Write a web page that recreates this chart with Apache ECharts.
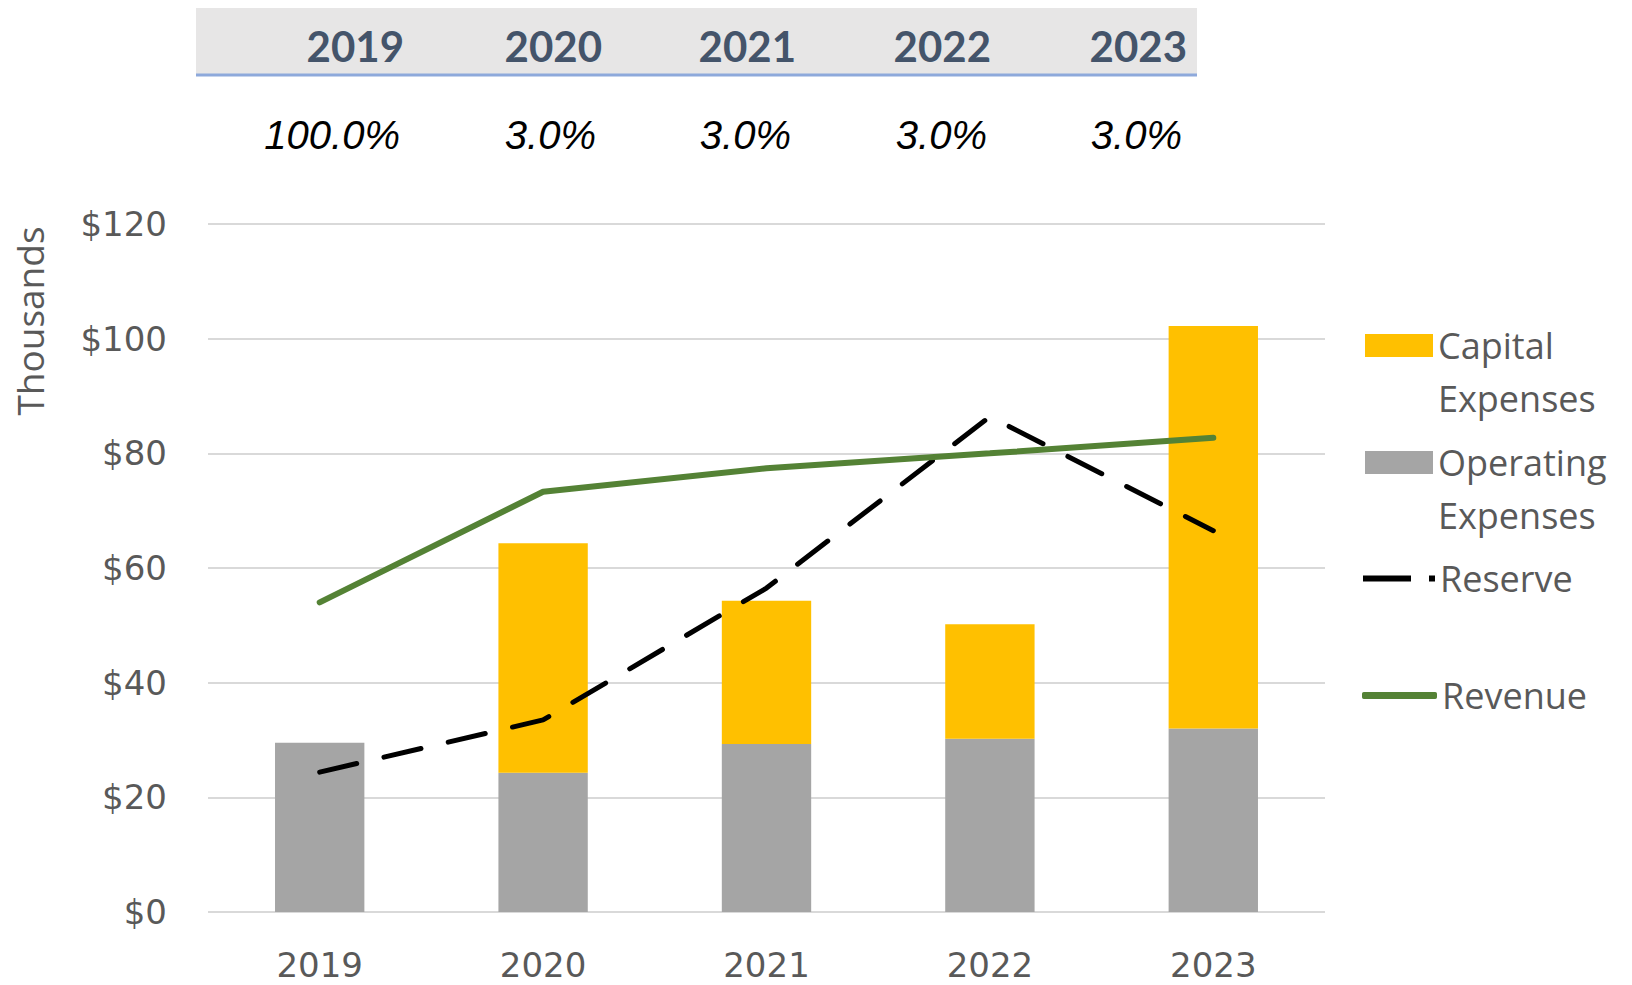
<!DOCTYPE html>
<html>
<head>
<meta charset="utf-8">
<title>Reserve</title>
<script src="https://cdn.jsdelivr.net/npm/echarts@6/dist/echarts.min.js"></script>
<style>
    html, body { margin: 0; padding: 0; background: #fff; }
    #chart { width: 1632px; height: 985px; }
</style>
</head>
<body>
<div id="chart"></div>
<script>
// 数据
var years = ['2019', '2020', '2021', '2022', '2023'];
var growthRates = ['100.0%', '3.0%', '3.0%', '3.0%', '3.0%'];
var operatingExpenses = [29.5, 24.3, 29.3, 30.2, 32.0];
var capitalExpenses = [null, 40.0, 25.0, 20.0, 70.2];
var reserve = [24.4, 33.5, 56.5, 86.4, 66.5];
var revenue = [54.0, 73.3, 77.4, 80.0, 82.7];
var yMin = 0;
var yMax = 120;
var yStep = 20;

// 表头列的右边界
var headerRight = [404, 602, 796, 991, 1187];
var rateRight = [400, 596, 791, 987, 1182];

function headerGraphic() {
    var els = [{
        type: 'rect',
        shape: {x: 196, y: 8, width: 1001, height: 67},
        style: {fill: '#E7E6E6'}
    }, {
        type: 'line',
        shape: {x1: 196, y1: 75, x2: 1197, y2: 75},
        style: {stroke: '#8EA9DB', lineWidth: 3}
    }];
    for (var i = 0; i < years.length; i++) {
        els.push({
            type: 'text',
            x: headerRight[i], y: 46,
            style: {
                text: years[i], align: 'right', verticalAlign: 'middle',
                font: 'bold 42px Lato', fill: '#44546A'
            }
        });
        els.push({
            type: 'text',
            x: rateRight[i], y: 135,
            style: {
                text: growthRates[i], align: 'right', verticalAlign: 'middle',
                font: 'italic 40px "Liberation Sans"', fill: '#000'
            }
        });
    }
    els.push({
        type: 'text',
        x: 29, y: 321,
        rotation: Math.PI / 2,
        style: {
            text: 'Thousands', align: 'center', verticalAlign: 'middle',
            font: '37px "Open Sans"', fill: '#595959'
        }
    });
    return els;
}

// 每个图例单独放置
function legendItem(name, icon, left, top, w, h, label) {
    return {
        data: [{name: name, icon: icon}],
        orient: 'vertical',
        left: left,
        top: top,
        padding: 0,
        itemWidth: w,
        itemHeight: h,
        selectedMode: false,
        formatter: function () { return label; },
        textStyle: {
            fontFamily: 'Open Sans',
            fontSize: 36,
            color: '#595959',
            lineHeight: 53
        }
    };
}

var option = {
    backgroundColor: '#fff',
    animation: false,
    graphic: headerGraphic(),
    legend: [
        legendItem('Capital Expenses', 'rect', 1365, 266, 68, 23, '\nCapital\nExpenses'),
        legendItem('Operating Expenses', 'rect', 1365, 383, 68, 23, '\nOperating\nExpenses'),
        legendItem('Reserve', 'path://M0,0H48V6H0ZM66,0H72V6H66Z', 1363, 552, 72, 6, 'Reserve'),
        legendItem('Revenue', 'roundRect', 1362, 669, 75, 7, 'Revenue')
    ],
    grid: {
        left: 208,
        top: 224,
        width: 1117,
        height: 688
    },
    xAxis: {
        type: 'category',
        data: years,
        axisTick: {show: false},
        axisLine: {show: false},
        axisLabel: {
            fontFamily: 'DejaVu Sans',
            fontSize: 34,
            color: '#595959',
            margin: 36
        }
    },
    yAxis: {
        type: 'value',
        min: yMin,
        max: yMax,
        interval: yStep,
        axisLine: {show: false},
        axisTick: {show: false},
        axisLabel: {
            fontFamily: 'DejaVu Sans',
            fontSize: 34,
            color: '#595959',
            margin: 41,
            formatter: function (v) { return '$' + v; }
        },
        splitLine: {lineStyle: {color: '#D9D9D9', width: 2}}
    },
    series: [{
        name: 'Operating Expenses',
        type: 'bar',
        stack: 'exp',
        barWidth: '40%',
        data: operatingExpenses,
        itemStyle: {color: '#A5A5A5'}
    }, {
        name: 'Capital Expenses',
        type: 'bar',
        stack: 'exp',
        data: capitalExpenses,
        itemStyle: {color: '#FFC000'}
    }, {
        name: 'Reserve',
        type: 'line',
        data: reserve,
        symbol: 'none',
        z: 5,
        lineStyle: {color: '#000', width: 5, type: [38, 28], cap: 'round'},
        itemStyle: {color: '#000'}
    }, {
        name: 'Revenue',
        type: 'line',
        data: revenue,
        symbol: 'none',
        z: 6,
        lineStyle: {color: '#548235', width: 6, cap: 'round'},
        itemStyle: {color: '#548235'}
    }]
};

var chart = echarts.init(document.getElementById('chart'), null, {renderer: 'svg'});
chart.setOption(option);
</script>
</body>
</html>
